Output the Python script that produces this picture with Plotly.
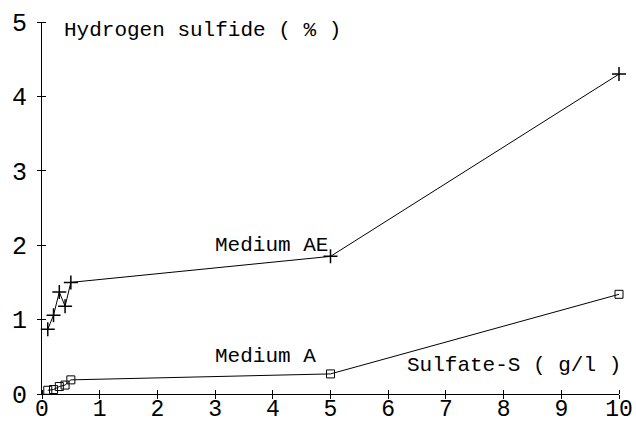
import plotly.graph_objects as go

ae_x = [0.1, 0.2, 0.3, 0.4, 0.5, 5, 10]
ae_y = [0.87, 1.06, 1.37, 1.18, 1.50, 1.85, 4.30]
a_x = [0.1, 0.2, 0.3, 0.4, 0.5, 5, 10]
a_y = [0.05, 0.06, 0.10, 0.12, 0.19, 0.27, 1.34]
x_ticks = [0, 1, 2, 3, 4, 5, 6, 7, 8, 9, 10]
y_ticks = [0, 1, 2, 3, 4, 5]

FONT = "Liberation Mono"

fig = go.Figure()
fig.add_trace(go.Scatter(x=ae_x, y=ae_y, mode="lines+markers",
                         line=dict(color="black", width=1),
                         marker=dict(symbol="cross-thin", size=10,
                                     line=dict(color="black", width=1.5)),
                         showlegend=False, cliponaxis=False))
fig.add_trace(go.Scatter(x=a_x, y=a_y, mode="lines+markers",
                         line=dict(color="black", width=1),
                         marker=dict(symbol="square-open", size=8, color="black",
                                     line=dict(width=1)),
                         showlegend=False, cliponaxis=False))

common = dict(showgrid=False, zeroline=False, showline=True, linecolor="black",
              linewidth=1, tickcolor="black", tickwidth=1, automargin=False)
fig.update_layout(
    width=636, height=423,
    margin=dict(l=42, r=17, t=22, b=29),
    paper_bgcolor="white", plot_bgcolor="white",
    font=dict(family=FONT, color="black"),
    xaxis=dict(range=[0, 10], tickvals=x_ticks, ticks="outside", ticklen=4,
               minor=dict(ticks="inside", tickvals=[v + 1e-6 for v in x_ticks],
                          ticklen=4, tickcolor="black", tickwidth=1),
               ticklabelstandoff=-11,
               tickfont=dict(size=23, family=FONT), **common),
    yaxis=dict(range=[0, 5], tickvals=y_ticks, ticks="outside", ticklen=4,
               minor=dict(ticks="inside", tickvals=[v + 1e-6 for v in y_ticks],
                          ticklen=4, tickcolor="black", tickwidth=1),
               ticklabelstandoff=5,
               tickfont=dict(size=25, family=FONT), **common),
)

ann = dict(showarrow=False, font=dict(size=21, family=FONT, color="black"))
fig.add_annotation(x=0.35, y=4.89, text="Hydrogen sulfide ( % )",
                   xanchor="left", yanchor="middle", **ann)
fig.add_annotation(x=2.96, y=1.99, text="Medium AE", xanchor="left", yanchor="middle", **ann)
fig.add_annotation(x=2.96, y=0.50, text="Medium A", xanchor="left", yanchor="middle", **ann)
fig.add_annotation(x=6.29, y=0.38, text="Sulfate-S ( g/l )", xanchor="left", yanchor="middle", **ann)

fig.write_html("out.html", config={"displayModeBar": False},
               post_script="document.body.style.margin='0';")
